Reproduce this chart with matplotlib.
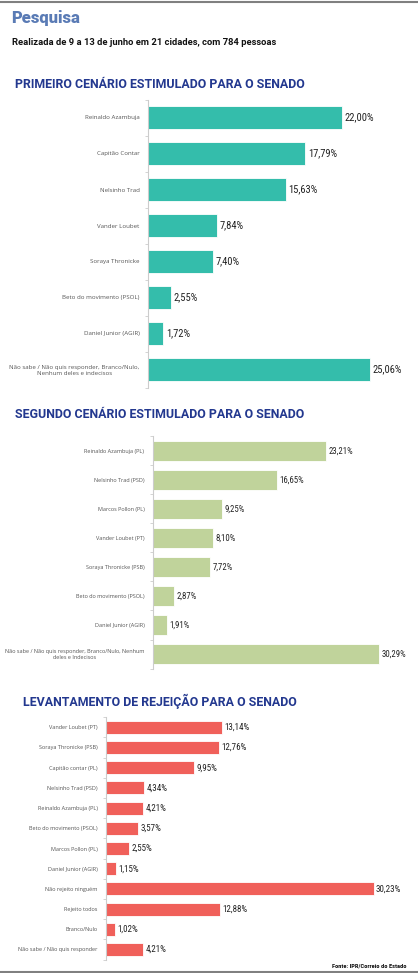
import matplotlib
matplotlib.use("Agg")
import matplotlib.pyplot as plt
from matplotlib import font_manager

# ---------------------------------------------------------------------------
# data
# ---------------------------------------------------------------------------
cen1_names = [
    "Reinaldo Azambuja", "Capitão Contar", "Nelsinho Trad", "Vander Loubet",
    "Soraya Thronicke", "Beto do movimento (PSOL)", "Daniel Junior (AGIR)",
    "Não sabe / Não quis responder, Branco/Nulo,\nNenhum deles e indecisos",
]
cen1_vals = [22.00, 17.79, 15.63, 7.84, 7.40, 2.55, 1.72, 25.06]

cen2_names = [
    "Reinaldo Azambuja (PL)", "Nelsinho Trad (PSD)", "Marcos Pollon (PL)",
    "Vander Loubet (PT)", "Soraya Thronicke (PSB)", "Beto do movimento (PSOL)",
    "Daniel Junior (AGIR)",
    "Não sabe / Não quis responder, Branco/Nulo, Nenhum\ndeles e Indecisos",
]
cen2_vals = [23.21, 16.65, 9.25, 8.10, 7.72, 2.87, 1.91, 30.29]

rej_names = [
    "Vander Loubet (PT)", "Soraya Thronicke (PSB)", "Capitão contar (PL)",
    "Nelsinho Trad (PSD)", "Reinaldo Azambuja (PL)", "Beto do movimento (PSOL)",
    "Marcos Pollon (PL)", "Daniel Junior (AGIR)", "Não rejeito ninguém",
    "Rejeito todos", "Branco/Nulo", "Não sabe / Não quis responder",
]
rej_vals = [13.14, 12.76, 9.95, 4.34, 4.21, 3.57, 2.55, 1.15, 30.23, 12.88, 1.02, 4.21]

# ---------------------------------------------------------------------------
# fonts / styling
# ---------------------------------------------------------------------------
installed = {f.name for f in font_manager.fontManager.ttflist}


def pick(*names):
    for n in names:
        if n in installed:
            return n
    return "DejaVu Sans"


NARROW = pick("Liberation Sans Narrow", "Roboto Condensed", "Roboto")
HEAD = pick("Roboto", "Lato", "DejaVu Sans")
SMALL = pick("Open Sans", "Noto Sans", "DejaVu Sans")

W, H = 418, 973
fig = plt.figure(figsize=(W / 100, H / 100), dpi=100)
fig.patch.set_facecolor("white")


def px_axes(left, top, width, height):
    return fig.add_axes([left / W, 1 - (top + height) / H, width / W, height / H])


def panel(names, vals, color, left, top, step, scale, bar_h, lab_fs, val_fs):
    n = len(vals)
    width = 410 - left
    ax = px_axes(left, top, width, step * n)
    ypos = list(range(n))
    ax.barh(ypos, vals, height=bar_h, color=color, edgecolor="white", linewidth=0.6)
    ax.set_xlim(0, width / scale)
    ax.set_ylim(n - 0.5, -0.5)
    ax.set_yticks(ypos)
    ax.set_yticklabels(names, fontsize=lab_fs, color="#555555", family=SMALL,
                       multialignment="center")
    ax.set_yticks([i - 0.5 for i in range(n + 1)], minor=True)
    ax.tick_params(axis="y", which="major", length=0, pad=6)
    ax.tick_params(axis="y", which="minor", length=2.5, color="#cccccc", width=0.6)
    ax.set_xticks([])
    for s in ["top", "right", "bottom"]:
        ax.spines[s].set_visible(False)
    ax.spines["left"].set_color("#cccccc")
    ax.spines["left"].set_linewidth(0.8)
    ax.patch.set_alpha(0)
    for y, v in zip(ypos, vals):
        ax.text(v + 2.5 / scale, y, f"{v:.2f}".replace(".", ",") + "%",
                va="center", ha="left", fontsize=val_fs, family=NARROW, color="#222222")
    return ax


# header
fig.add_artist(plt.Line2D([0, 1], [1 - 1.5 / H, 1 - 1.5 / H], color="#808080", lw=1.5))
fig.add_artist(plt.Line2D([0, 1], [1 - 971.5 / H, 1 - 971.5 / H], color="#808080", lw=1.5))
fig.text(11.5 / W, 1 - 17.5 / H, "Pesquisa", fontsize=12, fontweight="heavy",
         family=HEAD, color="#5a7bb5", va="center", ha="left")
fig.text(11.5 / W, 1 - 42.3 / H, "Realizada de 9 a 13 de junho em 21 cidades, com 784 pessoas",
         fontsize=6.75, fontweight="bold", family=HEAD, color="#111111", va="center", ha="left")

title_kw = dict(fontsize=8.9, fontweight="bold", family=HEAD, color="#23388f",
                va="center", ha="left")
fig.text(15 / W, 1 - 84.3 / H, "PRIMEIRO CENÁRIO ESTIMULADO PARA O SENADO", **title_kw)
fig.text(15 / W, 1 - 415 / H, "SEGUNDO CENÁRIO ESTIMULADO PARA O SENADO", **title_kw)
fig.text(23 / W, 1 - 701.7 / H, "LEVANTAMENTO DE REJEIÇÃO PARA O SENADO", **title_kw)

panel(cen1_names, cen1_vals, "#34bdab", left=148, top=99.5, step=36, scale=8.84,
      bar_h=0.65, lab_fs=4.4, val_fs=7.6)
panel(cen2_names, cen2_vals, "#c0d39b", left=152.7, top=436.5, step=29, scale=7.46,
      bar_h=0.68, lab_fs=4.0, val_fs=6.3)
panel(rej_names, rej_vals, "#f0605a", left=106, top=717.2, step=20.2, scale=8.85,
      bar_h=0.64, lab_fs=4.0, val_fs=6.5)

fig.text(406 / W, 1 - 965.5 / H, "Fonte: IPR/Correio do Estado", fontsize=4.6,
         fontweight="bold", family=NARROW, color="#111111", va="center", ha="right")

fig.savefig("out.png", dpi=100, facecolor="white")
